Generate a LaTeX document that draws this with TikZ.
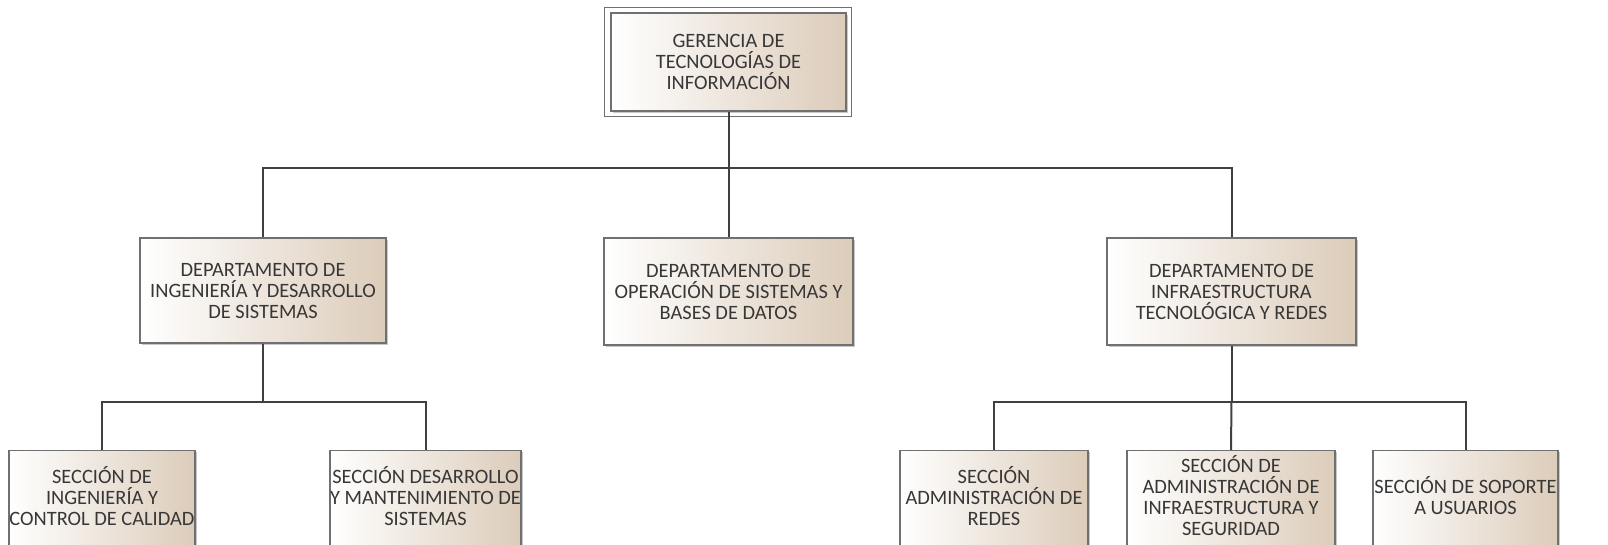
\documentclass[tikz,border=0pt]{standalone}
\usepackage{fontspec}
\setmainfont{Carlito}
\usetikzlibrary{calc}
\definecolor{beige}{RGB}{220,204,186}
\definecolor{borde}{RGB}{112,112,112}
\definecolor{sombra}{RGB}{200,200,200}
\definecolor{texto}{RGB}{55,55,55}
\definecolor{linea}{RGB}{64,64,64}
\tikzset{
	unidad/.style={draw=borde, line width=0.6pt, left color=white, right color=beige, text=texto,
		align=center, inner sep=0pt, font=\fontsize{10.2}{10.5}\selectfont,
		preaction={fill=sombra, transform canvas={shift={(0.8pt,-0.8pt)}}}},
	seccion/.style={unidad, minimum height=50pt, anchor=north, text depth=5pt},
	enlace/.style={draw=linea, line width=1pt}
}

\begin{document}
\begin{tikzpicture}[x=0.5pt, y=-0.5pt]
		%%%%% START %%%%%
		\useasboundingbox (0, 0) rectangle (1608, 545);
		\begin{scope}
		\clip (0, 0) rectangle (1608, 545);
		
		\node[unidad, minimum width=117.5pt, minimum height=49pt] (ger) at (728.5, 62) {GERENCIA DE\\TECNOLOGÍAS DE\\INFORMACIÓN};
		\draw[draw=borde, line width=0.6pt] ($(ger.north west)+(-6,-5)$) rectangle ($(ger.south east)+(5,5)$);
		
		\node[unidad, minimum width=123pt, minimum height=52.5pt] (dis) at (263, 290.5) {DEPARTAMENTO DE\\INGENIERÍA Y DESARROLLO\\DE SISTEMAS};
		\node[unidad, minimum width=124.5pt, minimum height=53.5pt] (ope) at (728.5, 291.5) {DEPARTAMENTO DE\\OPERACIÓN DE SISTEMAS Y\\BASES DE DATOS};
		\node[unidad, minimum width=124.5pt, minimum height=53.5pt] (inf) at (1231.5, 291.5) {DEPARTAMENTO DE\\INFRAESTRUCTURA\\TECNOLÓGICA Y REDES};
		
		\node[seccion, minimum width=93pt] (cal) at (102, 450) {SECCIÓN DE\\INGENIERÍA Y\\CONTROL DE CALIDAD};
		\node[seccion, minimum width=95.5pt] (man) at (425.5, 450) {SECCIÓN DESARROLLO\\Y MANTENIMIENTO DE\\SISTEMAS};
		\node[seccion, minimum width=94pt] (red) at (994, 450) {SECCIÓN\\ADMINISTRACIÓN DE\\REDES};
		\node[seccion, minimum width=104pt] (seg) at (1231, 450) {SECCIÓN DE\\ADMINISTRACIÓN DE\\INFRAESTRUCTURA Y\\SEGURIDAD};
		\node[seccion, minimum width=92.5pt] (sop) at (1465.5, 450) {SECCIÓN DE SOPORTE\\A USUARIOS};
		
		% gerencia -> departamentos
		\draw[enlace] (ger.south) -- ++(0, 56) coordinate (bus);
		\draw[enlace] (dis.north) |- (inf.north |- bus) -- (inf.north);
		\draw[enlace] (bus) -- (ope.north);
		
		% departamentos -> secciones
		\draw[enlace] (dis.south) -- ++(0, 58) coordinate (busdis);
		\draw[enlace] (cal.north) |- (man.north |- busdis) -- (man.north);
		\draw[enlace] (inf.south) -- ++(0, 56) coordinate (businf);
		\draw[enlace] (red.north) |- (sop.north |- businf) -- (sop.north);
		\draw[enlace] (businf) -- (seg.north);
		\end{scope}
		%%%%% END %%%%%
\end{tikzpicture}
\end{document}
